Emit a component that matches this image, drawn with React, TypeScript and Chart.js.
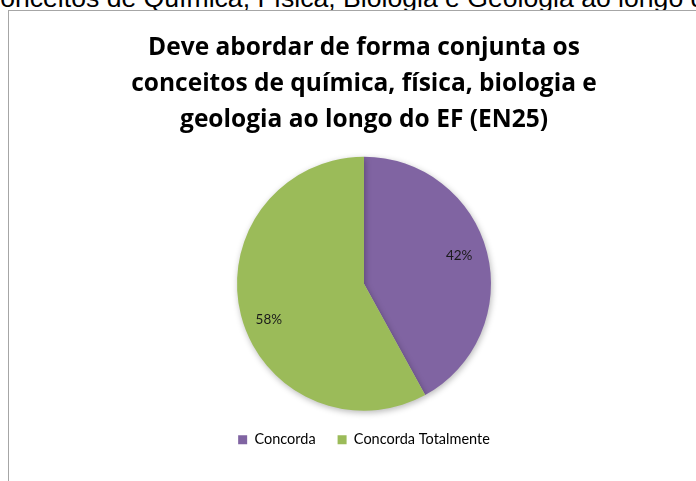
import React, { useEffect, useRef } from "react";
import { Chart, registerables } from "chart.js";

Chart.register(...registerables);

const categories = ["Concorda", "Concorda Totalmente"];
const values = [42, 58];
const colors = ["#8064A2", "#9BBB59"];
const titleLines = [
  "Deve abordar de forma conjunta os",
  "conceitos de química, física, biologia e",
  "geologia ao longo do EF (EN25)",
];
const headerText = "Conceitos de Química, Física, Biologia e Geologia ao longo do EF";

const FONT = "Lato, 'Open Sans', sans-serif";
const TITLE_FONT = "'Open Sans', Lato, sans-serif";

const labelPlugin = {
  id: "pctLabels",
  afterDatasetsDraw(chart: any) {
    const ctx = chart.ctx;
    const meta = chart.getDatasetMeta(0);
    const total = values.reduce((a, b) => a + b, 0);
    ctx.save();
    ctx.font = `13.5px ${FONT}`;
    ctx.fillStyle = "#1a1a1a";
    ctx.textAlign = "center";
    ctx.textBaseline = "middle";
    meta.data.forEach((arc: any, i: number) => {
      const { x, y, startAngle, endAngle, outerRadius } = arc.getProps(
        ["x", "y", "startAngle", "endAngle", "outerRadius"],
        true
      );
      const mid = (startAngle + endAngle) / 2 - (4 * Math.PI) / 180;
      const r = outerRadius * 0.79;
      const pct = Math.round((values[i] / total) * 100) + "%";
      ctx.fillText(pct, x + Math.cos(mid) * r, y + Math.sin(mid) * r + 4);
    });
    ctx.restore();
  },
};

const shadowPlugin = {
  id: "pieShadow",
  beforeDatasetsDraw(chart: any) {
    const ctx = chart.ctx;
    ctx.save();
    ctx.shadowColor = "rgba(0,0,0,0.28)";
    ctx.shadowBlur = 6;
    ctx.shadowOffsetX = 1;
    ctx.shadowOffsetY = 2;
  },
  afterDatasetsDraw(chart: any) {
    chart.ctx.restore();
  },
};

export default function App() {
  const canvasRef = useRef<HTMLCanvasElement | null>(null);

  useEffect(() => {
    if (!canvasRef.current) return;
    const chart = new Chart(canvasRef.current, {
      type: "pie",
      data: {
        labels: categories,
        datasets: [
          {
            data: values,
            backgroundColor: colors,
            borderWidth: 0,
            radius: 127,
          },
        ],
      },
      options: {
        responsive: false,
        animation: false,
        layout: { padding: { top: 0, bottom: 24, left: 0, right: 0 } },
        plugins: {
          title: {
            display: true,
            text: titleLines,
            color: "#000000",
            font: { family: TITLE_FONT, size: 24.5, weight: "bold", lineHeight: 1.47 },
            padding: { top: 19, bottom: 19 },
          },
          legend: {
            display: true,
            position: "bottom",
            labels: {
              boxWidth: 9,
              boxHeight: 9,
              padding: 22,
              color: "#000000",
              font: { family: FONT, size: 14.5 },
            },
          },
          tooltip: { enabled: false },
        },
      },
      plugins: [shadowPlugin, labelPlugin],
    });
    return () => chart.destroy();
  }, []);

  return (
    <div
      style={{
        position: "fixed",
        left: 0,
        top: 0,
        width: 696,
        height: 481,
        overflow: "hidden",
        background: "#ffffff",
      }}
    >
      <div
        style={{
          position: "absolute",
          left: -19,
          top: -15,
          whiteSpace: "nowrap",
          fontFamily: "'Liberation Sans', Arial, sans-serif",
          fontSize: 26.6,
          lineHeight: "26px",
          color: "#000",
        }}
      >
        {headerText}
      </div>
      <div
        style={{
          position: "absolute",
          left: 8,
          top: 10,
          width: 711,
          height: 480,
          borderLeft: "1px solid #a6a6a6",
          borderTop: "1px solid #a6a6a6",
          background: "#ffffff",
        }}
      >
        <canvas
          ref={canvasRef}
          width={710}
          height={470}
          style={{ display: "block", width: 710, height: 470 }}
        />
      </div>
    </div>
  );
}
